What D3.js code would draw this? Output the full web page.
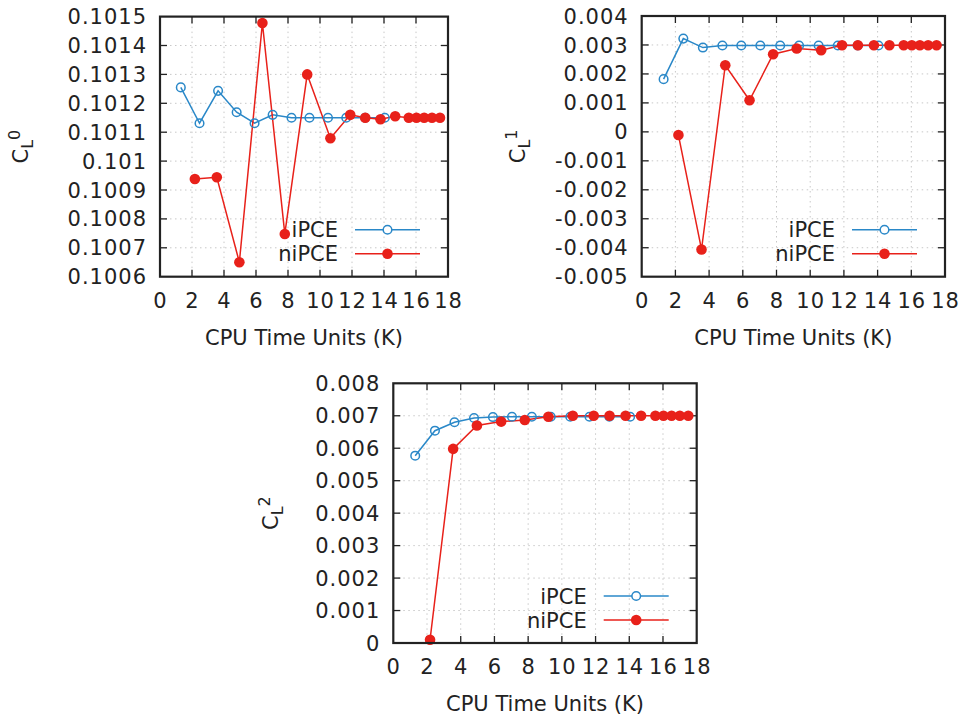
<!DOCTYPE html>
<html>
<head>
<meta charset="utf-8">
<script src="https://cdn.jsdelivr.net/npm/d3@7"></script>
<style>
  body { margin: 0; background: #fff; }
  svg { font-family: "DejaVu Sans", Verdana, sans-serif; }
  .grid line { stroke: #c8c8c8; stroke-width: 1; stroke-dasharray: 1.5,3.5; }
  .tick-label { font-size: 21px; fill: #222; letter-spacing: 1px; }
</style>
</head>
<body>
<div id="chart"></div>
<script>
// shared x positions (CPU time units, K)
const ipceX = [1.3, 2.47, 3.63, 4.79, 5.91, 7.04, 8.22, 9.34, 10.5, 11.64, 12.82, 14.05]
const nipceX = [2.18, 3.55, 4.96, 6.4, 7.8, 9.2, 10.65, 11.89, 12.83, 13.78, 14.7, 15.55, 16.03, 16.51, 17.0, 17.5]

// C_L^0
const cl0Ipce = [0.101255, 0.101131, 0.101243, 0.101169, 0.101131, 0.10116, 0.10115, 0.10115, 0.10115, 0.10115, 0.10115, 0.10115]
const cl0Nipce = [0.100938, 0.100944, 0.10065, 0.101478, 0.100748, 0.1013, 0.101079, 0.10116, 0.10115, 0.101145, 0.101155, 0.10115, 0.10115, 0.10115, 0.10115, 0.10115]

// C_L^1
const cl1Ipce = [0.00182, 0.00322, 0.00291, 0.00298, 0.00298, 0.00298, 0.00298, 0.00298, 0.00298, 0.00298, 0.00298, 0.00298]
const cl1Nipce = [-0.00011, -0.00406, 0.0023, 0.00109, 0.00268, 0.00288, 0.00282, 0.00299, 0.00299, 0.00299, 0.00299, 0.00299, 0.00299, 0.00299, 0.00299, 0.00299]

// C_L^2
const cl2Ipce = [0.00577, 0.00654, 0.0068, 0.00693, 0.00696, 0.00697, 0.00697, 0.00697, 0.00697, 0.00697, 0.00697, 0.00697]
const cl2Nipce = [0.0001, 0.00598, 0.0067, 0.00682, 0.00687, 0.00697, 0.007, 0.007, 0.007, 0.007, 0.007, 0.007, 0.007, 0.007, 0.007, 0.007]

const xTicks = [0, 2, 4, 6, 8, 10, 12, 14, 16, 18]
const cl0Ticks = [0.1006, 0.1007, 0.1008, 0.1009, 0.101, 0.1011, 0.1012, 0.1013, 0.1014, 0.1015]
const cl1Ticks = [-0.005, -0.004, -0.003, -0.002, -0.001, 0, 0.001, 0.002, 0.003, 0.004]
const cl2Ticks = [0, 0.001, 0.002, 0.003, 0.004, 0.005, 0.006, 0.007, 0.008]

const seriesNames = ["iPCE", "niPCE"]
const blue = "#2a88c8"
const red = "#e8211a"

const svg = d3.select("#chart").append("svg")
  .attr("width", 965)
  .attr("height", 720)

const panels = [
  {left: 160, right: 448, top: 16.6, bottom: 276.7, yTicks: cl0Ticks, ipce: cl0Ipce, nipce: cl0Nipce, sup: "0", labelX: 28},
  {left: 641.7, right: 945, top: 16, bottom: 276.7, yTicks: cl1Ticks, ipce: cl1Ipce, nipce: cl1Nipce, sup: "1", labelX: 525},
  {left: 393.3, right: 696.7, top: 383.3, bottom: 643, yTicks: cl2Ticks, ipce: cl2Ipce, nipce: cl2Nipce, sup: "2", labelX: 278}
]

const fmt = d => String(+d.toFixed(4))

panels.forEach(p => {
  const g = svg.append("g")

  const x = d3.scaleLinear().domain([0, 18]).range([p.left, p.right])
  const y = d3.scaleLinear().domain(d3.extent(p.yTicks)).range([p.bottom, p.top])

  //grid
  const grid = g.append("g").attr("class", "grid")
  grid.selectAll(".gx").data(xTicks.slice(1, -1)).enter().append("line")
    .attr("x1", d => x(d)).attr("x2", d => x(d))
    .attr("y1", p.top).attr("y2", p.bottom)
  grid.selectAll(".gy").data(p.yTicks.slice(1, -1)).enter().append("line")
    .attr("x1", p.left).attr("x2", p.right)
    .attr("y1", d => y(d)).attr("y2", d => y(d))

  //axes (ticks inward, mirrored)
  const tl = 7
  const axG = g.append("g").attr("stroke", "#222").attr("stroke-width", 1.3)
  xTicks.slice(1, -1).forEach(t => {
    axG.append("line").attr("x1", x(t)).attr("x2", x(t)).attr("y1", p.bottom).attr("y2", p.bottom - tl)
    axG.append("line").attr("x1", x(t)).attr("x2", x(t)).attr("y1", p.top).attr("y2", p.top + tl)
  })
  p.yTicks.slice(1, -1).forEach(t => {
    axG.append("line").attr("x1", p.left).attr("x2", p.left + tl).attr("y1", y(t)).attr("y2", y(t))
    axG.append("line").attr("x1", p.right).attr("x2", p.right - tl).attr("y1", y(t)).attr("y2", y(t))
  })

  g.selectAll(".xl").data(xTicks).enter().append("text")
    .attr("class", "tick-label")
    .attr("x", d => x(d) + 0.5).attr("y", p.bottom + 31)
    .attr("text-anchor", "middle")
    .text(d => d)

  g.selectAll(".yl").data(p.yTicks).enter().append("text")
    .attr("class", "tick-label")
    .attr("x", p.left - 13).attr("y", d => y(d))
    .attr("dy", "0.36em")
    .attr("text-anchor", "end")
    .text(fmt)

  //axis titles
  g.append("text")
    .attr("x", (p.left + p.right) / 2).attr("y", p.bottom + 68)
    .attr("text-anchor", "middle")
    .attr("font-size", 21).attr("fill", "#222")
    .text("CPU Time Units (K)")

  const yl = g.append("text")
    .attr("transform", "translate(" + p.labelX + "," + ((p.top + p.bottom) / 2) + ") rotate(-90)")
    .attr("text-anchor", "middle")
    .attr("font-size", 21).attr("fill", "#222")
  yl.append("tspan").text("C")
  yl.append("tspan").attr("font-size", 16).attr("dy", 5).text("L")
  yl.append("tspan").attr("font-size", 16).attr("dy", -13).text(p.sup)

  //data
  const line = d3.line().x(d => x(d[0])).y(d => y(d[1]))
  const ipce = p.ipce.map((v, i) => [ipceX[i], v])
  const nipce = p.nipce.map((v, i) => [nipceX[i], v])

  g.append("path").datum(ipce)
    .attr("d", line).attr("fill", "none").attr("stroke", blue).attr("stroke-width", 1.5)
  g.append("path").datum(nipce)
    .attr("d", line).attr("fill", "none").attr("stroke", red).attr("stroke-width", 1.5)

  g.selectAll(".pi").data(ipce).enter().append("circle")
    .attr("cx", d => x(d[0])).attr("cy", d => y(d[1])).attr("r", 4.3)
    .attr("fill", "none").attr("stroke", blue).attr("stroke-width", 1.5)
  g.selectAll(".pn").data(nipce).enter().append("circle")
    .attr("cx", d => x(d[0])).attr("cy", d => y(d[1])).attr("r", 5.3)
    .attr("fill", red)

  //legend
  const lx2 = p.right - 28, lx1 = lx2 - 65
  seriesNames.forEach((name, i) => {
    const ly = p.bottom - 47 + i * 24
    const c = i === 0 ? blue : red
    g.append("text")
      .attr("x", lx1 - 17).attr("y", ly).attr("dy", "0.36em")
      .attr("text-anchor", "end")
      .attr("font-size", 21).attr("fill", "#222")
      .text(name)
    g.append("line")
      .attr("x1", lx1).attr("x2", lx2).attr("y1", ly).attr("y2", ly)
      .attr("stroke", c).attr("stroke-width", 1.5)
    if (i === 0) {
      g.append("circle").attr("cx", (lx1 + lx2) / 2).attr("cy", ly).attr("r", 4.3)
        .attr("fill", "#fff").attr("stroke", c).attr("stroke-width", 1.5)
    } else {
      g.append("circle").attr("cx", (lx1 + lx2) / 2).attr("cy", ly).attr("r", 5.3).attr("fill", c)
    }
  })

  //border
  g.append("rect")
    .attr("x", p.left).attr("y", p.top)
    .attr("width", p.right - p.left).attr("height", p.bottom - p.top)
    .attr("fill", "none").attr("stroke", "#222").attr("stroke-width", 2.2)
})
</script>
</body>
</html>
